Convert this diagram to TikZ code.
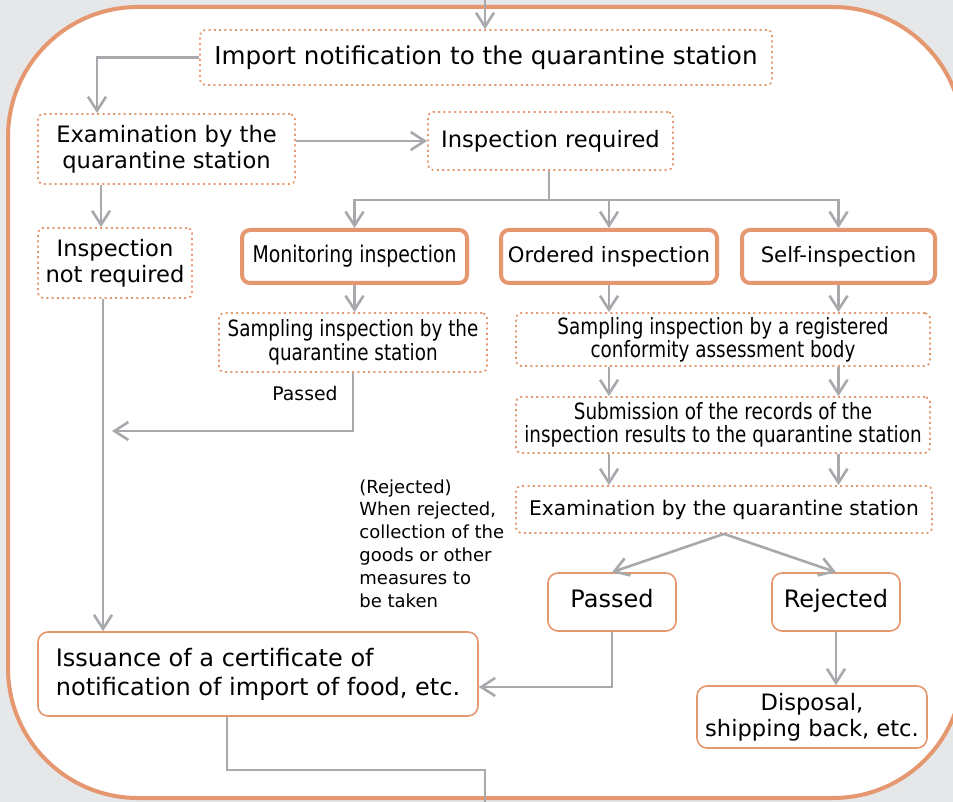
\documentclass[tikz,border=0pt]{standalone}
\usepackage{fontspec}
\setmainfont{DejaVu Sans}
\newfontfamily\condfont[FakeStretch=0.82]{DejaVu Sans}
\usetikzlibrary{arrows.meta}
\definecolor{framecol}{HTML}{E5976F}
\definecolor{linecol}{HTML}{A7A9AC}
\definecolor{bgcol}{HTML}{E6E7E8}
\newcommand\setfs[2]{\fontsize{#1}{#2}\selectfont}
\begin{document}
\begin{tikzpicture}[x=0.5pt,y=-0.5pt,
  dotbox/.style={draw=framecol, line width=0.9pt, dash pattern=on 1pt off 1.65pt, rounded corners=2.5pt, fill=white, inner sep=1pt, align=center},
  thickbox/.style={draw=framecol, line width=2pt, rounded corners=4pt, fill=white, inner sep=1pt, align=center},
  thinbox/.style={draw=framecol, line width=0.8pt, rounded corners=5pt, fill=white, inner sep=1pt, align=center},
  conn/.style={draw=linecol, line width=1.3pt},
  arr/.style={conn, -{Straight Barb[length=7pt,width=9pt]}}]
\useasboundingbox (0,0) rectangle (953,802);
\fill[bgcol] (0,0) rectangle (953,802);
\draw[framecol, line width=2pt, fill=white, rounded corners=65pt] (8,7) rectangle (963,798);
% boxes
\node[dotbox, minimum width=286pt, minimum height=27.5pt, font=\setfs{12.3}{14}] (import) at (486,57.5) {Import notification to the quarantine station};
\node[dotbox, minimum width=128.5pt, minimum height=35pt, font=\setfs{11.3}{13}] (exam) at (166.5,149) {Examination by the\\quarantine station};
\node[dotbox, minimum width=122.5pt, minimum height=29pt, font=\setfs{11.3}{13}] (inspreq) at (550.5,141) {Inspection required};
\node[dotbox, minimum width=77pt, minimum height=35pt, font=\setfs{11.3}{13}] (notreq) at (115,263) {Inspection\\not required};
\node[thickbox, minimum width=112.5pt, minimum height=26.5pt, font=\condfont\setfs{11.5}{13}] (monitor) at (354.5,256.5) {Monitoring inspection};
\node[thickbox, minimum width=108pt, minimum height=26.5pt, font=\setfs{10.6}{12}] (ordered) at (609,256.5) {Ordered inspection};
\node[thickbox, minimum width=96.5pt, minimum height=26.5pt, font=\setfs{10.6}{12}] (self) at (838.5,256.5) {Self-inspection};
\node[dotbox, minimum width=134pt, minimum height=29.5pt, font=\condfont\setfs{11.2}{12}] (samp1) at (353,342.5) {Sampling inspection by the\\quarantine station};
\node[dotbox, minimum width=207pt, minimum height=26.5pt, font=\condfont\setfs{11.2}{11.5}] (samp2) at (723,339.5) {Sampling inspection by a registered\\conformity assessment body};
\node[dotbox, minimum width=207pt, minimum height=28pt, font=\condfont\setfs{11.2}{11.5}] (submit) at (723,425) {Submission of the records of the\\inspection results to the quarantine station};
\node[dotbox, minimum width=208pt, minimum height=23.5pt, font=\setfs{10.1}{12}] (exam2) at (724,509.5) {Examination by the quarantine station};
\node[thinbox, minimum width=64pt, minimum height=29pt, font=\setfs{12}{14}] (passed) at (612,602) {Passed\strut};
\node[thinbox, minimum width=64pt, minimum height=29pt, font=\setfs{12}{14}] (rejected) at (836,602) {Rejected\strut};
\node[thinbox, minimum width=220pt, minimum height=42pt, align=left, font=\setfs{12}{14.5}] (issuance) at (258,674) {Issuance of a certificate of\\notification of import of food, etc.};
\node[thinbox, minimum width=115pt, minimum height=31pt, font=\setfs{11.3}{13}] (disposal) at (812,717) {Disposal,\\shipping back, etc.};
% free texts
\node[font=\setfs{9.4}{11}] (passlbl) at (305,393) {Passed};
\node[anchor=north west, align=left, inner sep=0pt, font=\setfs{9}{11.4}] (rejnote) at (359,479) {(Rejected)\\When rejected,\\collection of the\\goods or other\\measures to\\be taken};
% connectors
\coordinate (topin) at (485,0);
\coordinate (botout) at (485,802);
\coordinate (split) at (549,200);
\coordinate (extop) at ([xshift=-34.75pt]exam.north);
\coordinate (nrtop) at ([xshift=-7pt]notreq.north);
\coordinate (nrbot) at ([xshift=-6pt]notreq.south);
\coordinate (passin) at (112,431);
\coordinate (issin) at ([yshift=-6.5pt]issuance.east);
\coordinate (isout) at ([xshift=-15.5pt]issuance.south);
\coordinate (turn) at (485,770);
\draw[arr] (topin) -- (topin |- import.north);
\draw[arr] (import.west) -| (extop);
\draw[arr] (exam.east |- inspreq.west) -- (inspreq.west);
\draw[arr] (nrtop |- exam.south) -- (nrtop);
\draw[conn] (inspreq.south -| split) -- (split);
\draw[arr] (split) -| (monitor.north);
\draw[arr] (split) -| (self.north);
\draw[arr] (ordered.north |- split) -- (ordered.north);
\draw[arr] (monitor.south) -- (monitor.south |- samp1.north);
\draw[arr] (ordered.south) -- (ordered.south |- samp2.north);
\draw[arr] (self.south) -- (self.south |- samp2.north);
\foreach \col in {ordered,self} {
  \draw[arr] (\col.south |- samp2.south) -- (\col.south |- submit.north);
  \draw[arr] (\col.south |- submit.south) -- (\col.south |- exam2.north);
}
\draw[arr] (exam2.south) -- (passed.north);
\draw[arr] (exam2.south) -- (rejected.north);
\draw[arr] (samp1.south) |- (passin);
\draw[arr] (nrbot) -- (nrbot |- issuance.north);
\draw[arr] (passed.south) |- (issin);
\draw[arr] (rejected.south) -- (rejected.south |- disposal.north);
\draw[conn] (isout) |- (turn) -- (botout);
\end{tikzpicture}
\end{document}
